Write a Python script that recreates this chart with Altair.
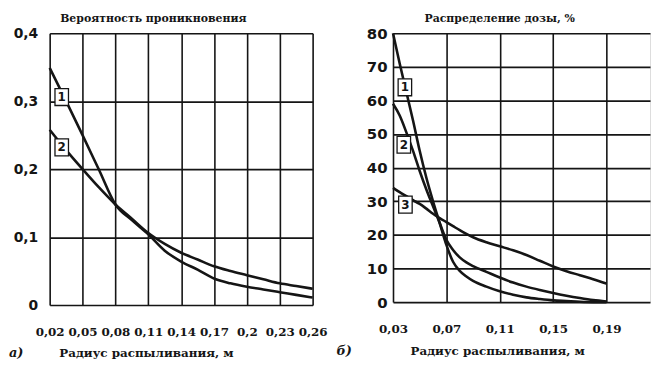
import altair as alt
import pandas as pd

# ---- panel а) : probability of penetration ----
radius_a = [0.02, 0.035, 0.05, 0.065, 0.08, 0.095, 0.11, 0.125, 0.14, 0.155,
            0.17, 0.185, 0.20, 0.215, 0.23, 0.245, 0.26]
prob_1 = [0.349, 0.300, 0.250, 0.199, 0.148, 0.125, 0.104, 0.080, 0.064, 0.052,
          0.039, 0.032, 0.027, 0.023, 0.019, 0.015, 0.011]
prob_2 = [0.258, 0.228, 0.200, 0.173, 0.148, 0.127, 0.106, 0.090, 0.077, 0.067,
          0.057, 0.050, 0.044, 0.038, 0.032, 0.028, 0.024]
tags_a = ["1", "2"]
tags_a_x = [0.031, 0.031]
tags_a_y = [0.306, 0.232]
xticks_a = [0.02, 0.05, 0.08, 0.11, 0.14, 0.17, 0.2, 0.23, 0.26]
yticks_a = [0, 0.1, 0.2, 0.3, 0.4]

# ---- panel б) : dose distribution, % ----
radius_b = [0.03, 0.035, 0.04, 0.045, 0.05, 0.055, 0.06, 0.065, 0.07, 0.075,
            0.08, 0.085, 0.09, 0.10, 0.11, 0.12, 0.13, 0.14, 0.15, 0.16,
            0.17, 0.18, 0.19]
dose_1 = [80, 71, 62.5, 54, 45, 37, 30, 23.5, 17, 12, 9.3, 7.6, 6.3, 4.6, 3.2,
          2.2, 1.4, 0.9, 0.5, 0.3, 0.1, 0, 0]
dose_2 = [59, 55.5, 50.5, 45, 39, 33.5, 28.5, 23.5, 18.5, 15.5, 13.3, 11.8,
          10.7, 9.0, 7.3, 5.8, 4.6, 3.6, 2.7, 1.9, 1.2, 0.6, 0.2]
dose_3 = [34, 32.7, 31.5, 30.3, 29.2, 27.8, 26.3, 25, 23.8, 22.6, 21.4, 20.3,
          19.3, 17.8, 16.6, 15.4, 14.0, 12.3, 10.6, 9.2, 8.0, 6.8, 5.5]
tags_b = ["1", "2", "3"]
tags_b_x = [0.0389, 0.0381, 0.0393]
tags_b_y = [63.9, 46.8, 29.0]
xticks_b = [0.03, 0.07, 0.11, 0.15, 0.19]
yticks_b = [0, 10, 20, 30, 40, 50, 60, 70, 80]

INK = "#151515"
SERIF = "DejaVu Serif"
SANS = "DejaVu Sans"


def long_df(xs, series):
    rows = []
    for name, vals in series.items():
        for x, v in zip(xs, vals):
            rows.append({"r": x, "v": v, "s": name})
    return pd.DataFrame(rows)


def panel(df, tags, xdom, ydom, xt, yt, xfmt, yfmt, title, title_dx, letter,
          letter_x, w, h, ylab_size, ylab_pad, xtitle_x, xtitle_y):
    x = alt.X("r:Q", scale=alt.Scale(domain=xdom, nice=False, zero=False),
              axis=alt.Axis(values=xt, grid=True, ticks=False, domain=False,
                            labelExpr=f"replace(format(datum.value, '{xfmt}'), '.', ',')",
                            labelFont=SERIF, labelFontWeight="bold", labelFontSize=12,
                            labelColor=INK, labelPadding=22, labelFlush=False,
                            labelOverlap=False, labelBound=False,
                            gridColor=INK, gridWidth=1.6, gridOpacity=1,
                            title="Радиус распыливания, м", titleFont=SERIF,
                            titleFontSize=12, titleFontWeight="bold", titleColor=INK,
                            titleX=xtitle_x, titleY=xtitle_y, titleAlign="center",
                            titleBaseline="middle"))
    y = alt.Y("v:Q", scale=alt.Scale(domain=ydom, nice=False, zero=True),
              axis=alt.Axis(values=yt, grid=True, ticks=False, domain=False,
                            labelExpr=f"replace(format(datum.value, '{yfmt}'), '.', ',')",
                            labelFont=SANS, labelFontWeight="bold",
                            labelFontSize=ylab_size, labelColor=INK,
                            labelPadding=ylab_pad, labelFlush=False,
                            labelOverlap=False, gridColor=INK, gridWidth=1.6,
                            gridOpacity=1, title=None))
    lines = alt.Chart(df).mark_line(color=INK, strokeWidth=2.6,
                                    interpolate="monotone").encode(
        x=x, y=y, detail="s:N")
    boxes = alt.Chart(tags).mark_point(
        shape="M-0.8,-1L0.8,-1L0.8,1L-0.8,1Z", size=289, filled=True,
        fill="white", stroke=INK, strokeWidth=1.3, opacity=1).encode(x=x, y=y)
    nums = alt.Chart(tags).mark_text(font=SANS, fontWeight="bold", fontSize=12,
                                     color=INK).encode(x=x, y=y, text="t:N")
    let = alt.Chart(pd.DataFrame({"t": [letter]})).mark_text(
        font=SERIF, fontStyle="italic", fontWeight="bold", fontSize=13,
        align="left", baseline="middle", color=INK).encode(
        text="t:N", x=alt.value(letter_x), y=alt.value(h + xtitle_y))
    return alt.layer(lines, boxes, nums, let).properties(
        width=w, height=h,
        title=alt.TitleParams(title, font=SERIF, fontSize=11, fontWeight="bold",
                              color=INK, dx=title_dx, offset=2))


df_a = long_df(radius_a, {"1": prob_1, "2": prob_2})
tg_a = pd.DataFrame({"r": tags_a_x, "v": tags_a_y, "t": tags_a})
df_b = long_df(radius_b, {"1": dose_1, "2": dose_2, "3": dose_3})
tg_b = pd.DataFrame({"r": tags_b_x, "v": tags_b_y, "t": tags_b})

left = panel(df_a, tg_a, [0.02, 0.26], [0, 0.4], xticks_a, yticks_a, ".2~f", ".1~f",
             "Вероятность проникновения", -28, "а)", -41, 265, 274, 14, 12, 97, 48)
right = panel(df_b, tg_b, [0.03, 0.2226], [0, 80], xticks_b, yticks_b, ".2~f", "d",
              "Распределение дозы, %", -22, "б)", -57, 259, 271, 15, 6, 105, 49)

chart = alt.hconcat(left, right, spacing=7).properties(
    padding={"left": 0, "top": 3, "right": 0, "bottom": 0}
).configure_view(stroke=INK, strokeWidth=2).configure(background="white")

chart.save("out.html", embed_options={"renderer": "svg", "actions": False})
